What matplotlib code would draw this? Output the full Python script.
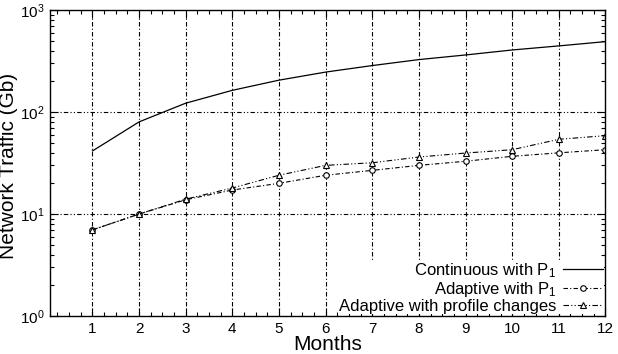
import matplotlib
matplotlib.use("Agg")
import matplotlib.pyplot as plt
from matplotlib.ticker import MultipleLocator, LogLocator, NullFormatter

months = [1, 2, 3, 4, 5, 6, 7, 8, 9, 10, 11, 12]
continuous_p1 = [41.5, 80, 122, 163, 205, 246, 285, 326, 362, 405, 444, 489]
adaptive_p1 = [7.0, 10, 13.8, 17.2, 20, 24, 26.8, 30, 32.9, 36.8, 39.8, 42.7]
adaptive_profile = [7.0, 10, 14, 18, 24, 30, 31.8, 36.2, 39.6, 42.7, 54, 58.6]
labels = ["Continuous with P$_1$", "Adaptive with P$_1$", "Adaptive with profile changes"]

plt.rcParams['font.family'] = ['Liberation Sans', 'DejaVu Sans']
plt.rcParams['mathtext.fontset'] = 'custom'
plt.rcParams['mathtext.rm'] = 'Liberation Sans'
plt.rcParams['mathtext.it'] = 'Liberation Sans'

fig = plt.figure(figsize=(6.18, 3.54), dpi=100)
ax = fig.add_axes([0.0817, 0.107, 0.898, 0.865])

ax.plot(months, continuous_p1, color='black', lw=0.9, ls='-', label=labels[0])
ax.plot(months, adaptive_p1, color='black', lw=0.8, ls=(0, (4, 2, 1, 2)), marker='o',
        ms=4, mfc='white', mec='black', mew=0.8, label=labels[1])
ax.plot(months, adaptive_profile, color='black', lw=0.8, ls=(0, (5, 2, 1, 2, 1, 2)), marker='^',
        ms=4, mfc='white', mec='black', mew=0.8, label=labels[2])

ax.set_yscale('log')
ax.set_xlim(0.1, 12)
ax.set_ylim(1, 1000)

ax.xaxis.set_major_locator(MultipleLocator(1))
ax.xaxis.set_minor_locator(MultipleLocator(0.25))
ax.yaxis.set_major_locator(LogLocator(base=10))
ax.yaxis.set_minor_locator(LogLocator(base=10, subs=range(2, 10)))
ax.yaxis.set_minor_formatter(NullFormatter())

ax.tick_params(which='both', direction='in', top=True, right=True, labelsize=11, width=0.8)
ax.tick_params(which='major', length=6, pad=4)
ax.tick_params(which='minor', length=3)
ax.set_xticks(months)

for m in months[:-1]:
    ax.axvline(m, color='black', lw=0.8, ls=(0, (4, 2, 1, 2)), zorder=0.5)
for yv in [10, 100]:
    ax.axhline(yv, color='black', lw=0.8, ls=(0, (4, 2, 1, 2, 1, 2)), zorder=0.5)

for s in ax.spines.values():
    s.set_linewidth(1.0)

ax.set_xlabel("Months", fontsize=15)
ax.xaxis.set_label_coords(0.5, -0.061)
ax.set_ylabel("Network Traffic (Gb)", fontsize=15)
ax.yaxis.set_label_coords(-0.058, 0.49)

leg = ax.legend(loc='lower right', markerfirst=False, alignment='right', fontsize=12,
                frameon=True, facecolor='white', edgecolor='none', framealpha=1,
                labelspacing=0.0, handlelength=2.4, handletextpad=0.4,
                borderpad=0.05, borderaxespad=0.1, fancybox=False)
for t in leg.get_texts():
    t.set_ha('right')

fig.savefig("out.png", dpi=100)
